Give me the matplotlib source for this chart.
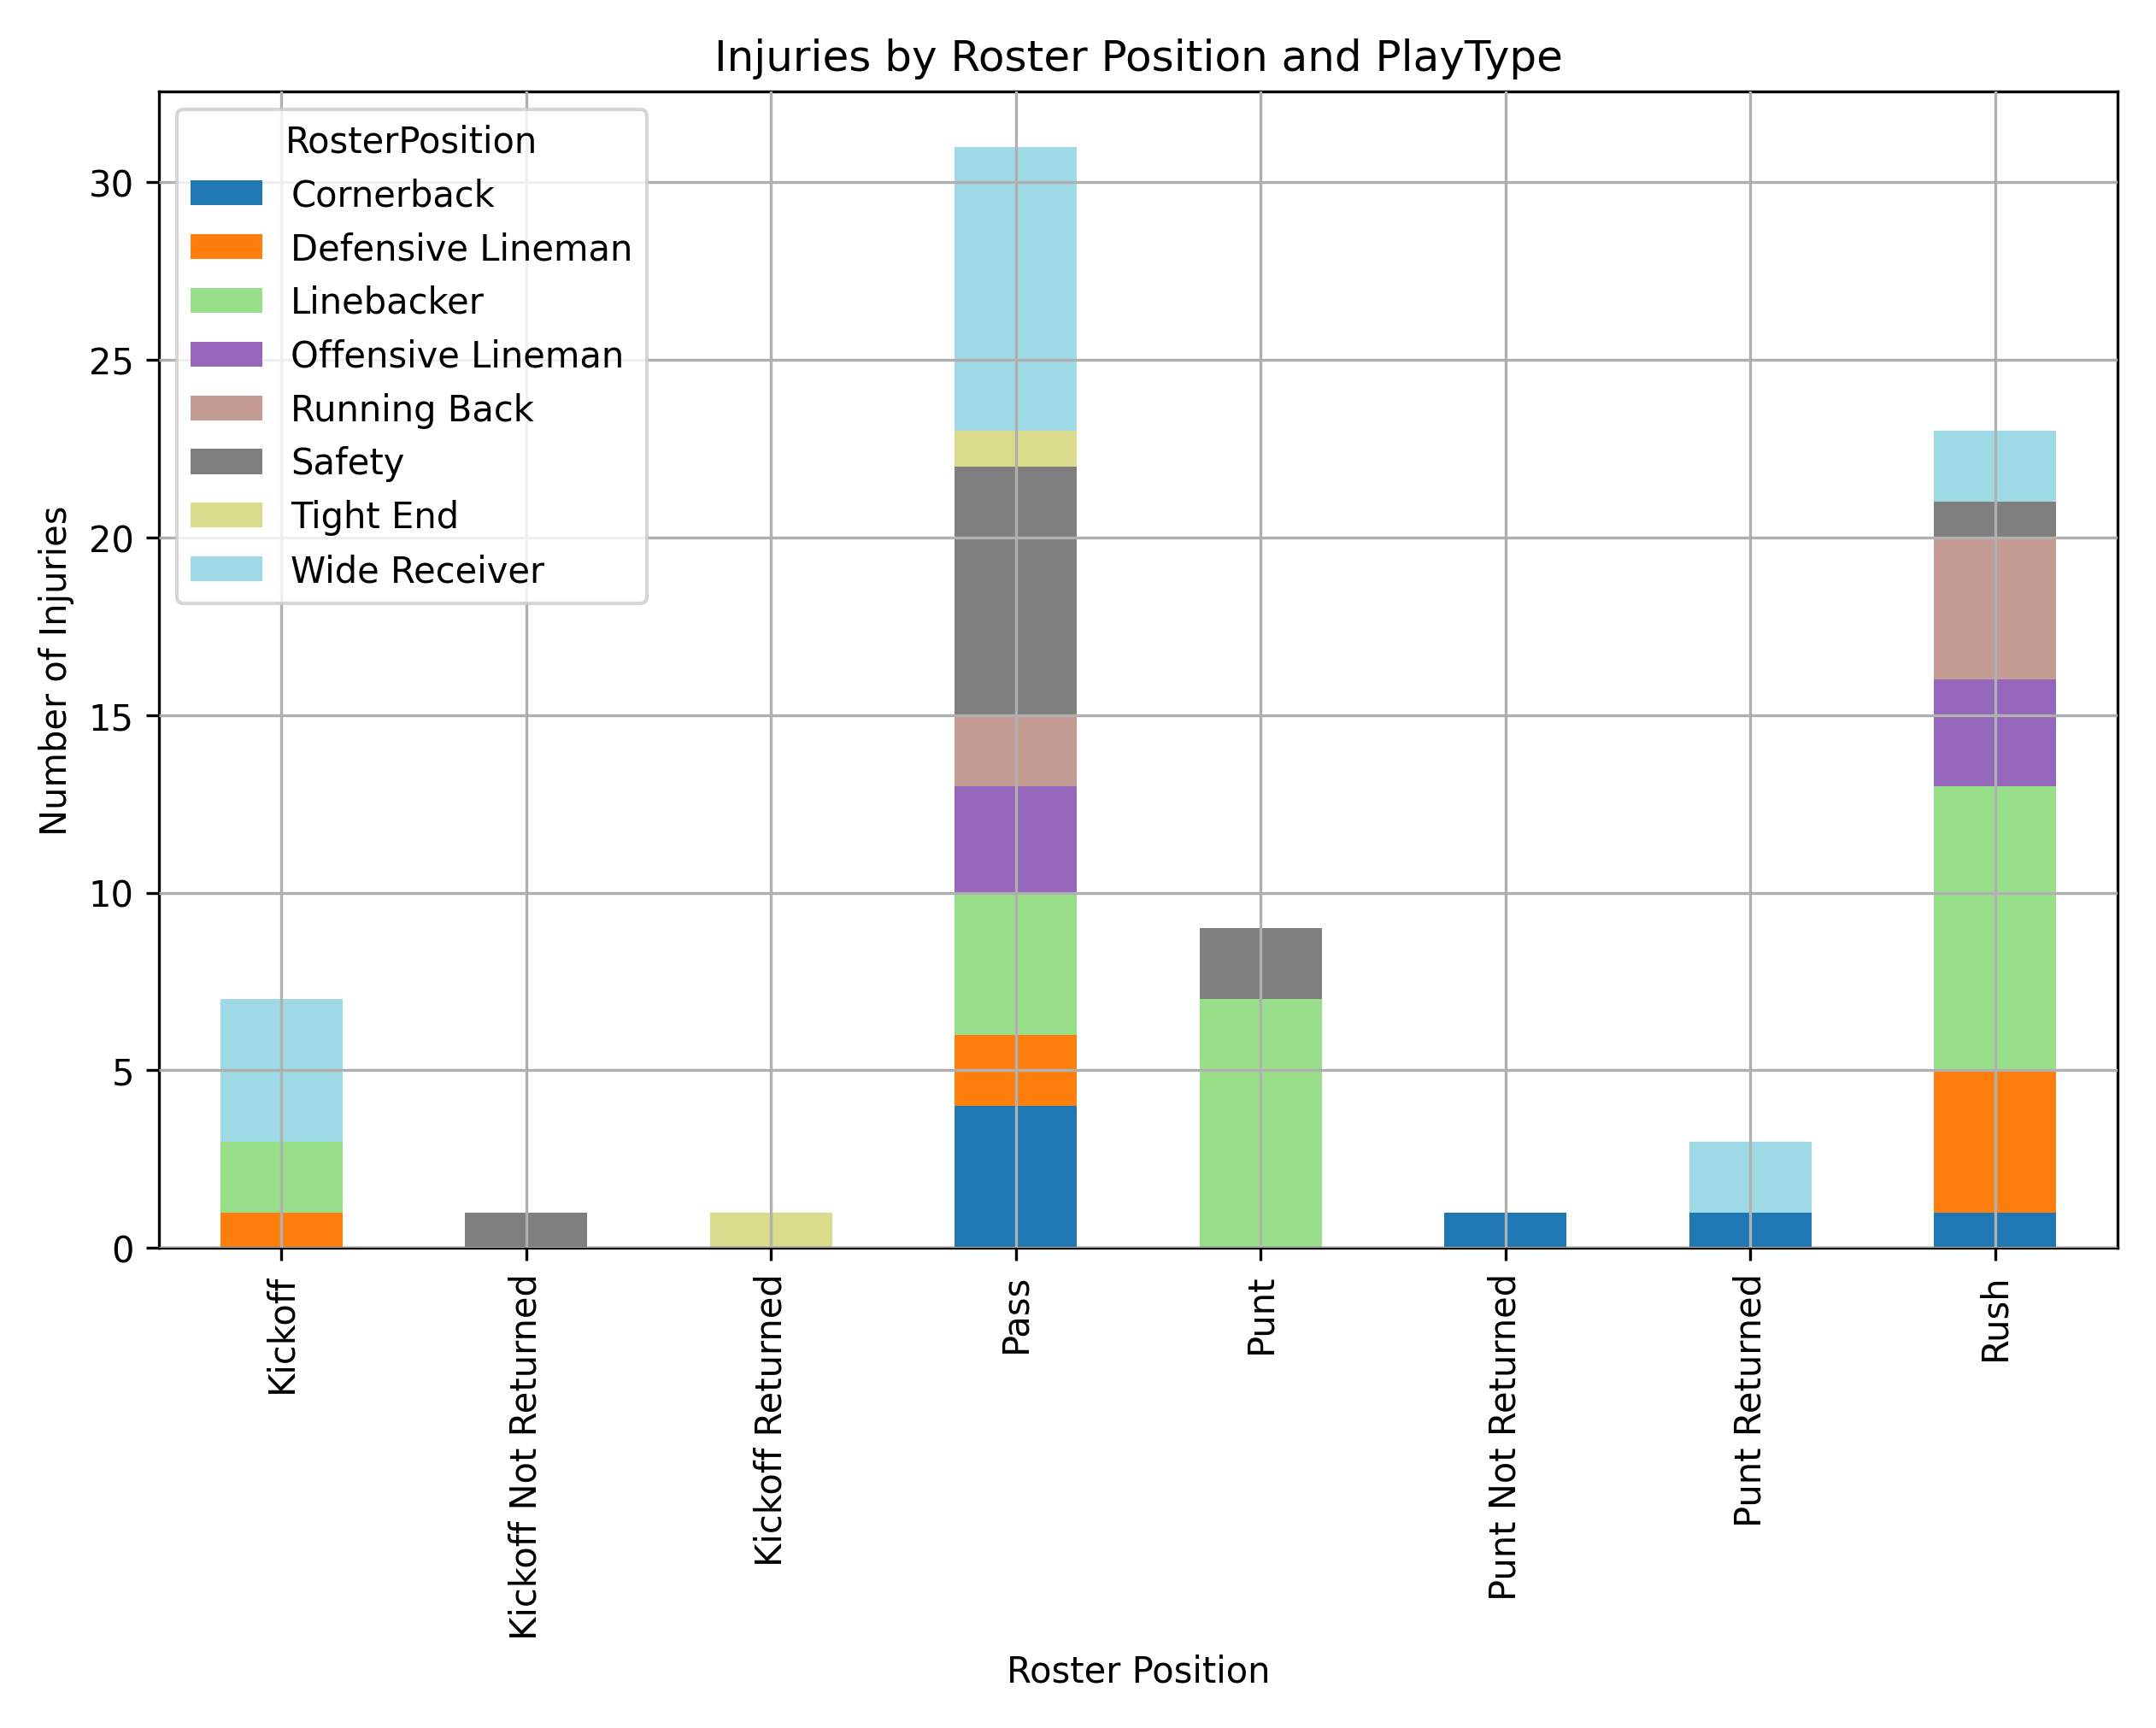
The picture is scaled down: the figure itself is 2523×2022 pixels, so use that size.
import numpy as np
import matplotlib.pyplot as plt

# ===== DATA =====
play_types = ["Kickoff", "Kickoff Not Returned", "Kickoff Returned", "Pass",
              "Punt", "Punt Not Returned", "Punt Returned", "Rush"]
positions = ["Cornerback", "Defensive Lineman", "Linebacker", "Offensive Lineman",
             "Running Back", "Safety", "Tight End", "Wide Receiver"]
counts = {
    "Cornerback":        [0, 0, 0, 4, 0, 1, 1, 1],
    "Defensive Lineman": [1, 0, 0, 2, 0, 0, 0, 4],
    "Linebacker":        [2, 0, 0, 4, 7, 0, 0, 8],
    "Offensive Lineman": [0, 0, 0, 3, 0, 0, 0, 3],
    "Running Back":      [0, 0, 0, 2, 0, 0, 0, 4],
    "Safety":            [0, 1, 0, 7, 2, 0, 0, 1],
    "Tight End":         [0, 0, 1, 1, 0, 0, 0, 0],
    "Wide Receiver":     [4, 0, 0, 8, 0, 0, 2, 2],
}

# ===== PLOT =====
fig, ax = plt.subplots(figsize=(8.41, 6.743), dpi=300)
colors = plt.get_cmap("tab20")(np.linspace(0, 1, len(positions)))
x = np.arange(len(play_types))
bottom = np.zeros(len(play_types))
for pos, c in zip(positions, colors):
    vals = np.array(counts[pos], dtype=float)
    ax.bar(x, vals, 0.5, bottom=bottom, color=c, label=pos, zorder=1)
    bottom += vals

ax.set_xticks(x)
ax.set_xticklabels(play_types, rotation=90)
ax.set_xlim(-0.5, len(play_types) - 0.5)
ax.grid(True, zorder=3)
ax.set_axisbelow(False)
ax.set_title("Injuries by Roster Position and PlayType")
ax.set_xlabel("Roster Position")
ax.set_ylabel("Number of Injuries")
ax.legend(title="RosterPosition", loc="upper left")

plt.tight_layout()
fig.savefig("out.png", dpi=300)
